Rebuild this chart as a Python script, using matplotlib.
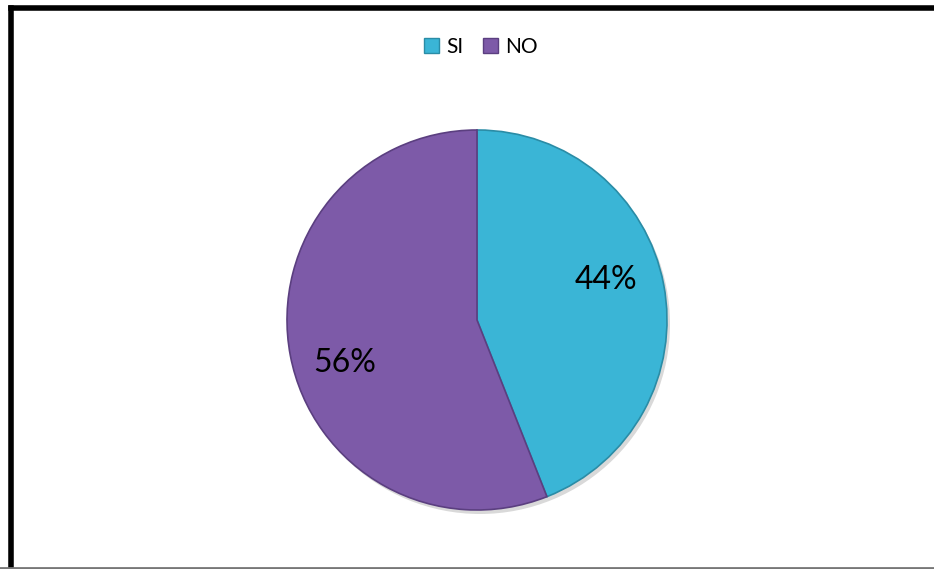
import matplotlib.pyplot as plt
from matplotlib.lines import Line2D
from matplotlib.patches import Patch

# data
labels = ["SI", "NO"]
values = [44, 56]
colors = ["#3AB5D6", "#7D5AA8"]
edges = ["#2A8CA6", "#5B3F80"]

plt.rcParams["font.family"] = ["Lato", "DejaVu Sans"]

fig = plt.figure(figsize=(9.34, 5.69), dpi=100)
ax = fig.add_axes([0, 0, 1, 1])
ax.set_xlim(0, 934)
ax.set_ylim(0, 569)
ax.axis("off")

# outer frame (left/top black, bottom gray)
ax.add_line(Line2D([10.5, 10.5], [0, 561.5], color="black", lw=4, solid_capstyle="projecting"))
ax.add_line(Line2D([10.5, 934], [561.5, 561.5], color="black", lw=4, solid_capstyle="projecting"))
ax.add_line(Line2D([0, 934], [1, 1], color="#777777", lw=2))

cx, cy, r = 477, 249, 190

# soft shadow
ax.pie([1], radius=r, center=(cx + 3, cy - 4), colors=["#d9d9d9"], frame=True,
       wedgeprops=dict(linewidth=0))

wedges, texts, autotexts = ax.pie(
    values, colors=colors, startangle=90, counterclock=False,
    radius=r, center=(cx, cy), frame=True, autopct="%d%%", pctdistance=0.7,
    wedgeprops=dict(linewidth=1.2),
    textprops=dict(fontsize=23, color="black"),
)
for w, ec in zip(wedges, edges):
    w.set_edgecolor(ec)

# label placement as in the original
autotexts[0].set_position((cx + 129, cy + 40))
autotexts[1].set_position((cx - 132, cy - 43))

ax.set_xlim(0, 934)
ax.set_ylim(0, 569)
ax.set_aspect("equal")
ax.axis("off")

handles = [Patch(facecolor=c, edgecolor=e, label=l) for c, e, l in zip(colors, edges, labels)]
fig.legend(handles=handles, loc="center", bbox_to_anchor=(481 / 934, 1 - 47 / 569),
           ncol=2, frameon=False, fontsize=15, handlelength=0.75, handleheight=0.75,
           handletextpad=0.35, columnspacing=0.9)

fig.savefig("out.png", dpi=100)
